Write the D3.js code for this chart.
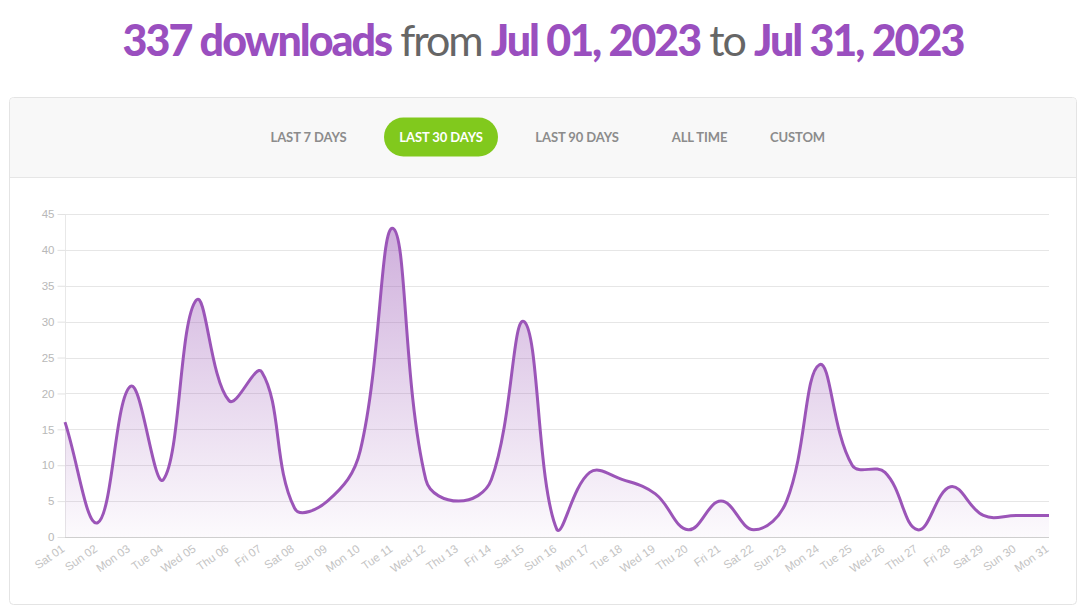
<!DOCTYPE html>
<html>
<head>
<meta charset="utf-8">
<script src="https://cdn.jsdelivr.net/npm/d3@7"></script>
<style>
  html, body { margin: 0; padding: 0; background: #fff; }
  svg { display: block; }
</style>
</head>
<body>
<svg id="chart" width="1086" height="608"></svg>
<script>
// Daily downloads for July 2023
const dayLabels = ["Sat 01","Sun 02","Mon 03","Tue 04","Wed 05","Thu 06","Fri 07","Sat 08","Sun 09","Mon 10",
  "Tue 11","Wed 12","Thu 13","Fri 14","Sat 15","Sun 16","Mon 17","Tue 18","Wed 19","Thu 20",
  "Fri 21","Sat 22","Sun 23","Mon 24","Tue 25","Wed 26","Thu 27","Fri 28","Sat 29","Sun 30","Mon 31"];
const downloads = [16, 2, 21, 8, 33, 19, 23, 4, 5, 12,
  43, 8, 5, 8, 30, 1, 9, 8, 6, 1,
  5, 1, 5, 24, 10, 9, 1, 7, 3, 3, 3];
const yTicks = [0, 5, 10, 15, 20, 25, 30, 35, 40, 45];
const rangeButtons = ["LAST 7 DAYS", "LAST 30 DAYS", "LAST 90 DAYS", "ALL TIME", "CUSTOM"];
const activeButton = "LAST 30 DAYS";
const totalText = "337 downloads";
const startText = "Jul 01, 2023";
const endText = "Jul 31, 2023";

const purple = "#9b55b8";
const svg = d3.select("#chart");

// ---- heading ----
const title = svg.append("text")
  .attr("x", 543).attr("y", 56)
  .attr("text-anchor", "middle")
  .style("font-family", "Lato, 'Open Sans', sans-serif")
  .style("font-size", "43px")
  .style("letter-spacing", "-2px");
[[totalText, true], [" from ", false], [startText, true], [" to ", false], [endText, true]].forEach(([t, strong]) => {
  title.append("tspan")
    .text(t)
    .attr("fill", strong ? "#9a4fbf" : "#666")
    .style("font-weight", strong ? 900 : 400);
});

// ---- panel ----
svg.append("rect")
  .attr("x", 9.5).attr("y", 97.5).attr("width", 1067).attr("height", 507)
  .attr("rx", 4).attr("fill", "#fff").attr("stroke", "#e4e4e4");
svg.append("path")
  .attr("d", "M10,177 V101.5 Q10,98 13.5,98 H1072.5 Q1076,98 1076,101.5 V177 Z")
  .attr("fill", "#f8f8f8");
svg.append("line")
  .attr("x1", 10).attr("x2", 1076).attr("y1", 177.5).attr("y2", 177.5)
  .attr("stroke", "#e6e6e6");

// ---- range buttons ----
const btnCenters = [308.5, 441, 577, 699.5, 797.5];
const btn = svg.append("g").selectAll("g")
  .data(rangeButtons).join("g")
  .attr("transform", (d, i) => `translate(${btnCenters[i]},137)`);
btn.filter(d => d === activeButton).append("rect")
  .attr("x", -57).attr("y", -19.5).attr("width", 114).attr("height", 39)
  .attr("rx", 19.5).attr("fill", "#81c91d");
btn.append("text")
  .attr("text-anchor", "middle").attr("dy", "0.35em")
  .attr("fill", d => d === activeButton ? "#fff" : "#8c8c8c")
  .style("font-family", "Lato, sans-serif")
  .style("font-weight", 700)
  .style("font-size", "13px")
  .style("letter-spacing", "-0.1px")
  .text(d => d);

// ---- chart ----
const x = d3.scalePoint().domain(dayLabels).range([65, 1049]);
const y = d3.scaleLinear().domain([0, 45]).range([537, 214]);

// Bezier spline with distance-weighted control points (tension 0.4),
// control points kept inside the plot area.
function SplineCurve(context, tension, xr, yr) {
  this._context = context; this._t = tension; this._xr = xr; this._yr = yr;
}
SplineCurve.prototype = {
  areaStart() { this._line = 0; },
  areaEnd() { this._line = NaN; },
  lineStart() { this._pts = []; },
  point(px, py) { this._pts.push([+px, +py]); },
  lineEnd() {
    const p = this._pts, c = this._context, n = p.length, t = this._t;
    const clampX = v => Math.max(this._xr[0], Math.min(this._xr[1], v));
    const clampY = v => Math.max(this._yr[0], Math.min(this._yr[1], v));
    if (n) {
      if (this._line) c.lineTo(p[0][0], p[0][1]); else c.moveTo(p[0][0], p[0][1]);
      const cps = p.map((cur, i) => {
        const prev = p[i - 1] || cur, next = p[i + 1] || cur;
        const d01 = Math.hypot(cur[0] - prev[0], cur[1] - prev[1]);
        const d12 = Math.hypot(next[0] - cur[0], next[1] - cur[1]);
        let s01 = d01 / (d01 + d12), s12 = d12 / (d01 + d12);
        if (!isFinite(s01)) s01 = 0;
        if (!isFinite(s12)) s12 = 0;
        const fa = t * s01, fb = t * s12;
        return {
          prev: [clampX(cur[0] - fa * (next[0] - prev[0])), clampY(cur[1] - fa * (next[1] - prev[1]))],
          next: [clampX(cur[0] + fb * (next[0] - prev[0])), clampY(cur[1] + fb * (next[1] - prev[1]))]
        };
      });
      for (let i = 1; i < n; i++) {
        const a = cps[i - 1].next, b = cps[i].prev;
        c.bezierCurveTo(a[0], a[1], b[0], b[1], p[i][0], p[i][1]);
      }
    }
    if (this._line || (this._line !== 0 && n === 1)) c.closePath();
    this._line = 1 - this._line;
  }
};
const curve = ctx => new SplineCurve(ctx, 0.4, x.range(), [y.range()[1], y.range()[0]]);

// gridlines
svg.append("g").selectAll("line")
  .data(yTicks.filter(v => v > 0)).join("line")
  .attr("x1", 65).attr("x2", 1049)
  .attr("y1", d => Math.round(y(d)) + 0.5).attr("y2", d => Math.round(y(d)) + 0.5)
  .attr("stroke", "#e6e6e6");

// y axis
const yAxis = svg.append("g")
  .attr("transform", "translate(65.5,0)")
  .call(d3.axisLeft(y).tickValues(yTicks).tickSize(8).tickPadding(3).tickFormat(d3.format("d")));
yAxis.select(".domain").attr("stroke", "#e8e8e8").attr("d", `M0,${y(45)}V${y(0)}`);
yAxis.selectAll(".tick line").attr("stroke", "#e2e2e2");
yAxis.selectAll(".tick text")
  .attr("fill", "#b8b8b8")
  .style("font-family", "'Liberation Sans', Arial, sans-serif")
  .style("font-size", "11.5px");

// fill gradient
const defs = svg.append("defs");
const grad = defs.append("linearGradient")
  .attr("id", "fillGrad")
  .attr("gradientUnits", "userSpaceOnUse")
  .attr("x1", 0).attr("x2", 0).attr("y1", y(45)).attr("y2", y(0));
grad.append("stop").attr("offset", "0%").attr("stop-color", "#9b59b6").attr("stop-opacity", 0.5);
grad.append("stop").attr("offset", "100%").attr("stop-color", "#9b59b6").attr("stop-opacity", 0.03);

const area = d3.area()
  .x((d, i) => x(dayLabels[i]))
  .y0(y(0))
  .y1(d => y(d))
  .curve(curve);
svg.append("path")
  .datum(downloads)
  .attr("d", area)
  .attr("fill", "url(#fillGrad)");

// x axis
const xAxis = svg.append("g")
  .attr("transform", `translate(0,${y(0) + 0.5})`)
  .call(d3.axisBottom(x).tickSize(0).tickPadding(0));
xAxis.select(".domain").attr("stroke", "#cfcfcf").attr("d", "M65,0H1049");
xAxis.selectAll(".tick text")
  .attr("fill", "#c4c4c4")
  .attr("text-anchor", "end")
  .attr("dy", 0)
  .attr("transform", "translate(0,13) rotate(-35)")
  .style("font-family", "'Liberation Sans', Arial, sans-serif")
  .style("font-size", "11.5px");

// line
const line = d3.line()
  .x((d, i) => x(dayLabels[i]))
  .y(d => y(d))
  .curve(curve);
svg.append("path")
  .datum(downloads)
  .attr("d", line)
  .attr("fill", "none")
  .attr("stroke", purple)
  .attr("stroke-width", 3)
  .attr("stroke-linejoin", "round");
</script>
</body>
</html>
